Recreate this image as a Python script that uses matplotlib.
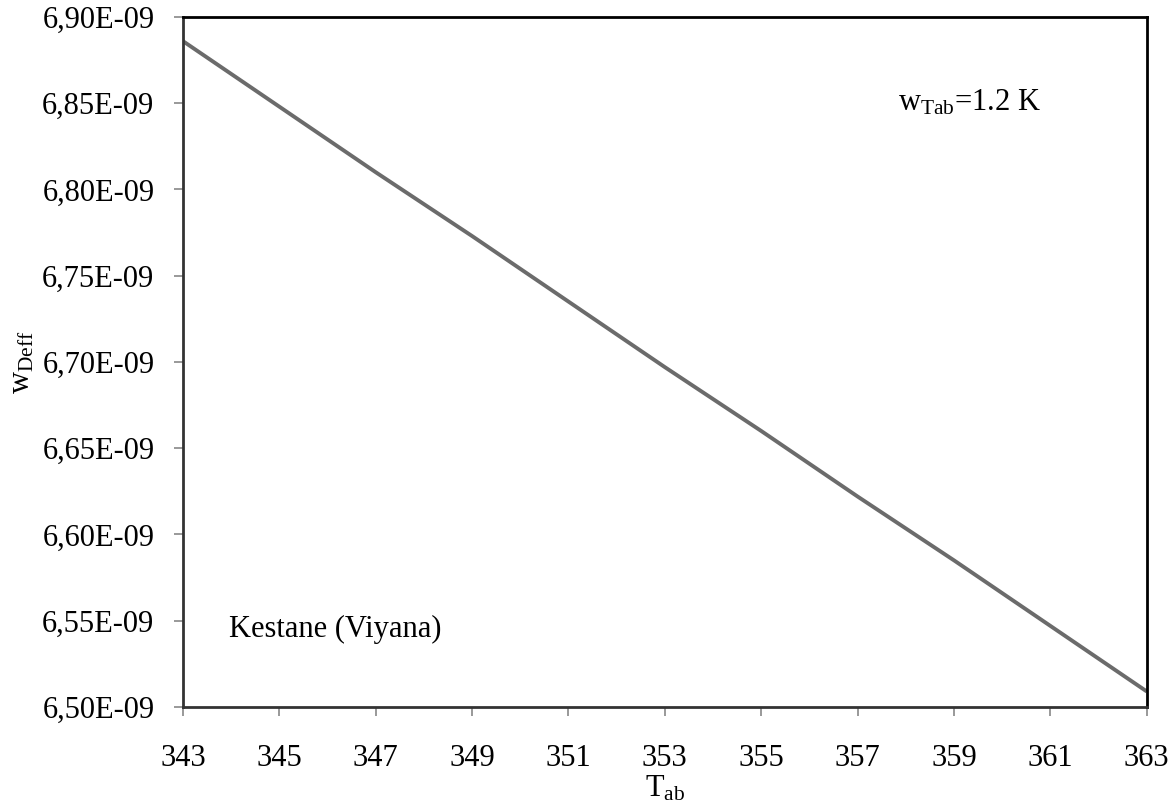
import matplotlib
matplotlib.use("Agg")
from matplotlib import pyplot as plt
from matplotlib.ticker import FuncFormatter

# values
t_ab = [343, 345, 347, 349, 351, 353, 355, 357, 359, 361, 363]
w_deff = [6.886e-9, 6.848e-9, 6.810e-9, 6.773e-9, 6.735e-9, 6.697e-9,
          6.660e-9, 6.622e-9, 6.585e-9, 6.547e-9, 6.509e-9]
x_ticks = list(range(343, 364, 2))
y_ticks = [6.50e-9 + i * 0.05e-9 for i in range(9)]

plt.rcParams['font.family'] = ['Liberation Serif', 'DejaVu Serif']
plt.rcParams['mathtext.fontset'] = 'custom'
plt.rcParams['mathtext.rm'] = 'Liberation Serif'
plt.rcParams['mathtext.it'] = 'Liberation Serif'

fs = 22

fig = plt.figure(figsize=(11.69, 8.08), dpi=100)
ax = fig.add_axes([0.1565, 0.125, 0.8245, 0.854])

ax.plot(t_ab, w_deff, color="#6b6b6b", linewidth=2.8, solid_capstyle="butt")

ax.set_xlim(343, 363)
ax.set_ylim(6.50e-9, 6.90e-9)
ax.set_xticks(x_ticks)
ax.set_yticks(y_ticks)


def sci_comma(v, pos):
    return "{:.2f}E-09".format(v * 1e9).replace(".", ",")


ax.yaxis.set_major_formatter(FuncFormatter(sci_comma))
ax.tick_params(axis="both", direction="out", length=6.5, width=1.2,
               color="#888888", labelsize=fs)
ax.tick_params(axis="y", pad=14)
ax.tick_params(axis="x", pad=20)

for side in ["top", "right"]:
    ax.spines[side].set_color("black")
    ax.spines[side].set_linewidth(2)
for side in ["left", "bottom"]:
    ax.spines[side].set_color("#333333")
    ax.spines[side].set_linewidth(2)

ax.set_xlabel(r"T$_{\mathrm{ab}}$", fontsize=fs)
ax.set_ylabel(r"w$_{\mathrm{Deff}}$", fontsize=fs)
ax.xaxis.set_label_coords(0.5, -0.097)
ax.yaxis.set_label_coords(-0.152, 0.5)

ax.text(0.742, 0.864, r"w$_{\mathrm{Tab}}$=1.2 K", transform=ax.transAxes,
        fontsize=fs, va="baseline", ha="left")
ax.text(0.048, 0.101, "Kestane (Viyana)", transform=ax.transAxes,
        fontsize=fs, va="baseline", ha="left")

fig.savefig("out.png", dpi=100, facecolor="white")
